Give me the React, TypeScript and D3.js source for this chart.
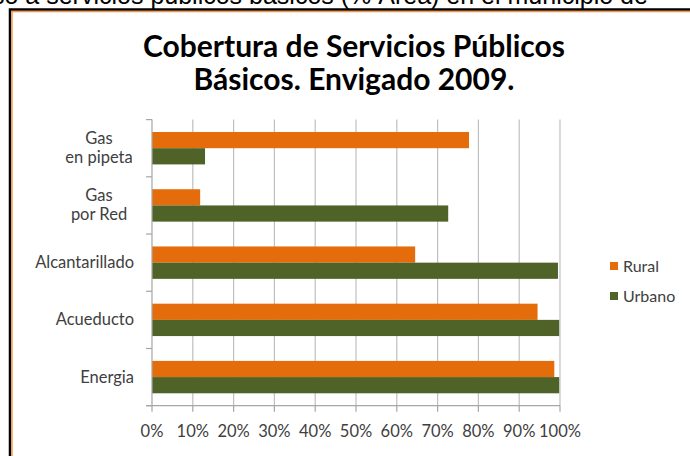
import React from "react";
import * as d3 from "d3";

const categories = ["Energia", "Acueducto", "Alcantarillado", "Gas por Red", "Gas en pipeta"];
const categoryLabels = [["Energia"], ["Acueducto"], ["Alcantarillado"], ["Gas", "por Red"], ["Gas", "en pipeta"]];
const seriesNames = ["Rural", "Urbano"];
const rural = [98.6, 94.5, 64.5, 11.8, 77.7];
const urbano = [99.8, 99.8, 99.5, 72.6, 13];
const xTicks = [0, 10, 20, 30, 40, 50, 60, 70, 80, 90, 100];
const titleLines = ["Cobertura de Servicios Públicos", "Básicos. Envigado 2009."];
const topText = "so a servicios públicos básicos (% Área) en el municipio de";

const colors = ["#E46C0A", "#4F6228"];
const FONT = "Lato, 'Open Sans', sans-serif";

export default function App() {
  const W = 690, H = 456;
  const x0 = 152, x1 = 560, yTop = 119.6, yBot = 405.7;
  const x = d3.scaleLinear().domain([0, 100]).range([x0, x1]);
  const y = d3.scaleBand<string>().domain([...categories].reverse()).range([yTop, yBot]).padding(0);
  const step = y.bandwidth();
  const groupH = step * 0.566;
  const inner = d3.scaleBand<string>().domain(seriesNames).range([(step - groupH) / 2, (step + groupH) / 2]).padding(0);
  const seriesValues = [rural, urbano];
  const boundaries = d3.range(categories.length + 1).map(i => yTop + i * step);

  return (
    <svg width={W} height={H} style={{ position: "absolute", left: 0, top: 0, display: "block", background: "#fff" }}>
      <text x={-8} y={4} fontFamily="'Liberation Sans', Arial, sans-serif" fontSize={25} fill="#000">{topText}</text>
      <rect x={10} y={9.5} width={720} height={500} fill="#fff" stroke="#000" strokeWidth={2.5} />
      <rect x={12} y={11.6} width={720} height={500} fill="none" stroke="#F79646" strokeWidth={1.4} />

      {titleLines.map((t, i) => (
        <text key={i} x={354} y={57 + i * 33} textAnchor="middle" fontFamily={FONT} fontWeight="bold" fontSize={30} fill="#000">{t}</text>
      ))}

      {xTicks.slice(1).map(t => (
        <line key={t} x1={x(t)} x2={x(t)} y1={yTop} y2={yBot} stroke="#BFBFBF" strokeWidth={1.2} />
      ))}

      {categories.map((c, i) => (
        <g key={c} transform={`translate(0,${y(c)})`}>
          {seriesNames.map((s, j) => (
            <rect key={s} x={x(0)} y={inner(s)} width={x(seriesValues[j][i]) - x(0)} height={inner.bandwidth()} fill={colors[j]} />
          ))}
        </g>
      ))}

      <line x1={x0} x2={x0} y1={yTop} y2={yBot} stroke="#A6A6A6" strokeWidth={1.2} />
      {boundaries.map((b, i) => (
        <line key={i} x1={x0 - 6} x2={x0} y1={b} y2={b} stroke="#A6A6A6" strokeWidth={1.2} />
      ))}
      <line x1={x0 - 6} x2={x1} y1={yBot} y2={yBot} stroke="#A6A6A6" strokeWidth={1.2} />
      {xTicks.map(t => (
        <g key={t}>
          <line x1={x(t)} x2={x(t)} y1={yBot} y2={yBot + 6} stroke="#A6A6A6" strokeWidth={1.2} />
          <text x={x(t)} y={437} textAnchor="middle" fontFamily={FONT} fontSize={16.5} fill="#404040">{t}%</text>
        </g>
      ))}

      {categories.map((c, i) => {
        const lines = categoryLabels[i];
        const cy = (y(c) as number) + step / 2;
        const lh = 19;
        const startY = cy - ((lines.length - 1) * lh) / 2 + 5.5;
        return (
          <text key={c} fontFamily={FONT} fontSize={16.5} fill="#404040" textAnchor={lines.length > 1 ? "middle" : "end"}>
            {lines.map((l, k) => (
              <tspan key={k} x={lines.length > 1 ? 99 : 134} y={startY + k * lh}>{l}</tspan>
            ))}
          </text>
        );
      })}

      {seriesNames.map((s, j) => (
        <g key={s} transform={`translate(610,${262 + j * 30})`}>
          <rect x={0} y={0} width={8} height={8} fill={colors[j]} />
          <text x={13} y={9.5} fontFamily={FONT} fontSize={16} fill="#404040">{s}</text>
        </g>
      ))}
    </svg>
  );
}
